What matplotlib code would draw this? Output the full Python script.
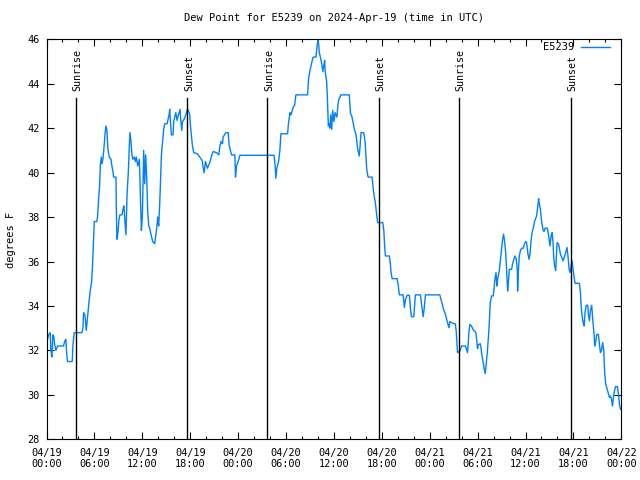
import datetime
import numpy as np
import matplotlib
matplotlib.use("Agg")
import matplotlib.pyplot as plt
from matplotlib.ticker import MultipleLocator

# hours since 2024-04-19 00:00 UTC, dew point in deg F
hours = [
    0.13, 0.25, 0.46, 0.54, 0.67, 0.79, 0.92, 1.0, 1.17, 1.38, 2.13, 2.26, 2.42, 2.55, 2.63,
    3.22, 3.3, 3.47, 4.43, 4.56, 4.64, 4.81, 4.98, 5.06, 5.18, 5.35, 5.48, 5.65, 5.77, 5.9,
    5.98, 6.31, 6.4, 6.52, 6.65, 6.73, 6.86, 6.94, 7.06, 7.19, 7.32, 7.44, 7.57, 7.69, 7.86,
    8.07, 8.19, 8.32, 8.4, 8.7, 8.74, 8.82, 8.95, 9.07, 9.2, 9.45, 9.57, 9.7, 9.82, 9.95,
    10.08, 10.25, 10.37, 10.45, 10.58, 10.7, 10.83, 11.0, 11.13, 11.25, 11.42, 11.63, 11.75, 11.88, 12.0,
    12.13, 12.17, 12.3, 12.42, 12.55, 12.67, 12.8, 12.92, 13.1, 13.3, 13.55, 13.8, 13.93, 14.05, 14.18,
    14.39, 14.59, 14.68, 14.8, 15.1, 15.22, 15.35, 15.43, 15.52, 15.64, 15.85, 15.93, 16.19, 16.35, 16.48,
    16.73, 16.81, 16.94, 17.03, 17.23, 17.4, 17.65, 17.82, 17.94, 18.03, 18.15, 18.28, 18.44, 18.9, 19.2,
    19.49, 19.61, 19.74, 19.91, 20.16, 20.45, 20.67, 20.87, 21.29, 21.58, 21.71, 21.87, 22.04, 22.12, 22.46,
    22.75, 22.87, 23.17, 23.59, 23.67, 23.8, 24.09, 24.22, 28.5, 28.65, 28.72, 28.85, 29.07, 29.23, 29.36,
    30.2, 30.3, 30.5, 30.62, 30.9, 31.08, 31.24, 32.7, 32.83, 33.0, 33.25, 33.4, 33.75, 33.88, 34.0,
    34.08, 34.17, 34.3, 34.4, 34.5, 34.62, 34.72, 34.84, 34.92, 35.09, 35.2, 35.3, 35.4, 35.5, 35.6,
    35.72, 35.85, 36.0, 36.15, 36.37, 36.55, 36.85, 37.93, 38.06, 38.27, 38.56, 38.77, 38.98, 39.18, 39.4,
    39.73, 39.9, 40.03, 40.11, 40.28, 40.78, 40.86, 41.03, 41.19, 41.37, 41.49, 42.12, 42.25, 42.37, 42.45,
    42.95, 43.07, 43.16, 43.29, 43.91, 44.04, 44.2, 44.67, 44.83, 44.96, 45.17, 45.46, 45.58, 45.71, 46.01,
    46.1, 46.21, 46.83, 47.05, 47.18, 47.3, 47.47, 49.27, 49.4, 49.56, 49.72, 49.9, 50.06, 50.23, 50.4,
    50.53, 50.73, 51.07, 51.2, 51.32, 51.44, 51.48, 51.66, 51.82, 51.98, 52.48, 52.6, 52.73, 52.82, 52.9,
    53.03, 53.23, 53.41, 53.79, 53.91, 53.99, 54.08, 54.33, 54.42, 54.49, 54.62, 54.71, 54.83, 54.96, 55.08,
    55.21, 55.33, 55.42, 55.5, 55.58, 55.75, 55.96, 56.09, 56.17, 56.3, 56.42, 56.5, 56.71, 56.84, 57.0,
    57.13, 57.25, 57.38, 57.5, 57.63, 57.76, 57.84, 57.97, 58.26, 58.38, 58.68, 58.85, 58.97, 59.01, 59.1,
    59.22, 59.35, 59.51, 59.72, 59.85, 60.01, 60.14, 60.31, 60.44, 60.56, 60.69, 60.82, 60.98, 61.1, 61.23,
    61.39, 61.52, 61.64, 61.73, 61.86, 61.94, 62.07, 62.23, 62.36, 62.45, 62.74, 62.9, 63.07, 63.2, 63.33,
    63.45, 63.53, 63.65, 63.78, 63.86, 63.95, 64.12, 64.24, 64.37, 64.53, 64.7, 64.87, 65.03, 65.2, 65.33,
    65.46, 65.58, 65.71, 65.83, 65.96, 66.09, 66.21, 66.75, 66.88, 66.96, 67.09, 67.21, 67.34, 67.46, 67.6,
    67.8, 67.88, 68.01, 68.13, 68.29, 68.42, 68.6, 68.67, 68.8, 68.92, 69.13, 69.26, 69.38, 69.51, 69.67,
    69.8, 69.92, 70.05, 70.23, 70.39, 70.52, 70.64, 70.77, 70.89, 71.02, 71.14, 71.27, 71.52, 71.64, 71.77,
    71.89,
]
dewpoint = [
    32.5, 32.7, 32.8, 32.0, 31.7, 32.7, 32.6, 32.3, 32.0, 32.2, 32.2, 32.4, 32.5, 31.75, 31.5,
    31.5, 32.2, 32.8, 32.8, 33.0, 33.7, 33.6, 32.9, 33.2, 33.6, 34.3, 34.7, 35.1, 35.9, 37.1,
    37.8, 37.8, 38.05, 38.8, 39.4, 40.3, 40.7, 40.4, 40.6, 41.1, 41.7, 42.1, 41.9, 41.05, 40.7,
    40.6, 40.3, 40.05, 39.8, 39.8, 38.4, 37.0, 37.3, 37.9, 38.1, 38.1, 38.35, 38.5, 37.8, 37.2,
    38.95, 40.05, 41.2, 41.8, 41.4, 40.8, 40.6, 40.7, 40.5, 40.7, 40.3, 40.6, 39.1, 37.4, 38.0,
    40.4, 41.0, 39.5, 40.8, 39.8, 38.3, 37.6, 37.5, 37.2, 36.9, 36.8, 37.5, 38.0, 37.6, 38.6,
    40.8, 41.6, 41.95, 42.2, 42.2, 42.4, 42.6, 42.85, 42.3, 41.7, 41.7, 42.3, 42.7, 42.35, 42.55,
    42.85, 42.4, 41.9, 42.3, 42.4, 42.55, 42.85, 42.75, 42.6, 42.1, 41.65, 41.2, 40.9, 40.85, 40.7,
    40.55, 40.24, 40.0, 40.5, 40.2, 40.45, 40.75, 40.95, 40.9, 40.8, 41.2, 41.4, 41.3, 41.6, 41.8,
    41.8, 41.25, 40.8, 40.8, 39.8, 40.3, 40.6, 40.78, 40.78, 40.25, 39.75, 40.2, 40.5, 41.0, 41.75,
    41.75, 42.2, 42.7, 42.6, 42.95, 43.03, 43.5, 43.5, 44.23, 44.6, 45.0, 45.2, 45.2, 45.65, 45.96,
    45.8, 45.4, 45.2, 45.05, 44.8, 44.55, 44.8, 45.05, 44.5, 44.1, 43.2, 42.1, 42.2, 42.0, 42.6,
    41.95, 42.8, 42.3, 42.7, 42.5, 43.2, 43.5, 43.5, 42.7, 42.5, 41.95, 41.7, 41.05, 40.75, 41.8,
    41.8, 41.4, 40.6, 40.15, 39.8, 39.8, 39.5, 38.95, 38.65, 38.05, 37.75, 37.75, 37.4, 36.6, 36.25,
    36.25, 35.9, 35.5, 35.23, 35.23, 34.98, 34.5, 34.5, 33.93, 34.3, 34.48, 34.48, 33.9, 33.52, 33.52,
    34.0, 34.5, 34.5, 33.9, 33.52, 33.85, 34.5, 34.5, 34.3, 34.1, 33.85, 33.7, 33.48, 33.25, 33.02,
    33.3, 33.25, 33.2, 33.2, 32.87, 32.2, 31.9, 31.95, 32.0, 32.2, 32.2, 32.05, 31.9, 32.3, 32.8,
    33.17, 33.1, 32.95, 32.8, 32.35, 32.08, 32.25, 32.3, 32.15, 31.9, 31.6, 31.45, 31.15, 30.96, 31.4,
    31.9, 32.5, 32.95, 33.55, 34.15, 34.45, 34.45, 34.9, 35.2, 35.5, 34.9, 35.2, 35.57, 36.03, 36.55,
    37.0, 37.23, 36.9, 36.47, 35.65, 34.67, 35.0, 35.65, 35.65, 35.9, 36.25, 36.1, 35.6, 34.67, 35.5,
    36.25, 36.47, 36.6, 36.6, 36.77, 36.9, 36.85, 36.33, 36.1, 36.33, 36.92, 37.3, 37.52, 37.75, 37.9,
    38.05, 38.42, 38.83, 38.6, 38.35, 38.05, 37.67, 37.37, 37.37, 37.5, 37.5, 37.15, 36.7, 37.15, 37.3,
    36.85, 36.18, 35.8, 35.6, 36.2, 36.85, 36.8, 36.6, 36.33, 36.2, 36.03, 36.2, 36.4, 36.63, 36.2,
    35.65, 35.5, 35.8, 36.03, 35.65, 35.28, 35.02, 35.02, 34.6, 34.03, 33.55, 33.25, 33.1, 33.7, 34.03,
    34.03, 33.6, 33.33, 33.8, 34.03, 33.4, 32.65, 32.2, 32.4, 32.72, 32.72, 32.3, 31.9, 32.0, 32.35,
    32.0, 30.96, 30.48, 30.25, 30.03, 29.88, 29.95, 29.8, 29.5, 29.9, 30.17, 30.37, 30.37, 30.03, 29.58,
    29.35,
]

sunrise_hours = [3.7, 27.66, 51.62]
sunset_hours = [17.64, 41.68, 65.72]

start = datetime.datetime(2024, 4, 19)
tick_hours = list(range(0, 73, 6))
tick_labels = [(start + datetime.timedelta(hours=h)).strftime("%m/%d\n%H:%M") for h in tick_hours]

plt.rcParams["font.family"] = ["DejaVu Sans Mono"]

fig = plt.figure(figsize=(6.4, 4.8), dpi=100)
ax = fig.add_axes([0.0727, 0.0848, 0.8981, 0.8333])

ax.plot(hours, dewpoint, color="#0080ff", lw=1.0, label="E5239")

# sunrise / sunset markers
for h in sunrise_hours:
    ax.plot([h, h], [28, 43.35], color="black", lw=1.0)
    ax.text(h + 0.2, 43.66, "Sunrise", rotation=90, ha="center", va="bottom", fontsize=7.2)
for h in sunset_hours:
    ax.plot([h, h], [28, 43.35], color="black", lw=1.0)
    ax.text(h + 0.2, 43.66, "Sunset", rotation=90, ha="center", va="bottom", fontsize=7.2)

ax.set_xlim(0, 72)
ax.set_ylim(28, 46)
ax.set_xticks(tick_hours)
ax.set_xticklabels(tick_labels)
ax.xaxis.set_minor_locator(MultipleLocator(2))
ax.set_yticks(range(28, 47, 2))
ax.tick_params(axis="both", which="major", direction="in", length=5, width=0.8,
               top=True, right=True, labelsize=7.4)
ax.tick_params(axis="x", which="minor", direction="in", length=2.5, width=0.8, top=True)
ax.tick_params(axis="x", which="major", pad=6)
ax.tick_params(axis="y", which="major", pad=5)

ax.set_title("Dew Point for E5239 on 2024-Apr-19 (time in UTC)", fontsize=7.5, pad=13)
fig.text(0.017, 0.5, "degrees F", rotation=90, ha="center", va="center", fontsize=7.5)

ax.legend(loc="upper right", bbox_to_anchor=(0.982, 0.995), frameon=False, markerfirst=False,
          fontsize=7.5, handlelength=2.8, handletextpad=0.6, borderaxespad=0, borderpad=0.1)

fig.savefig("out.png", dpi=100)
